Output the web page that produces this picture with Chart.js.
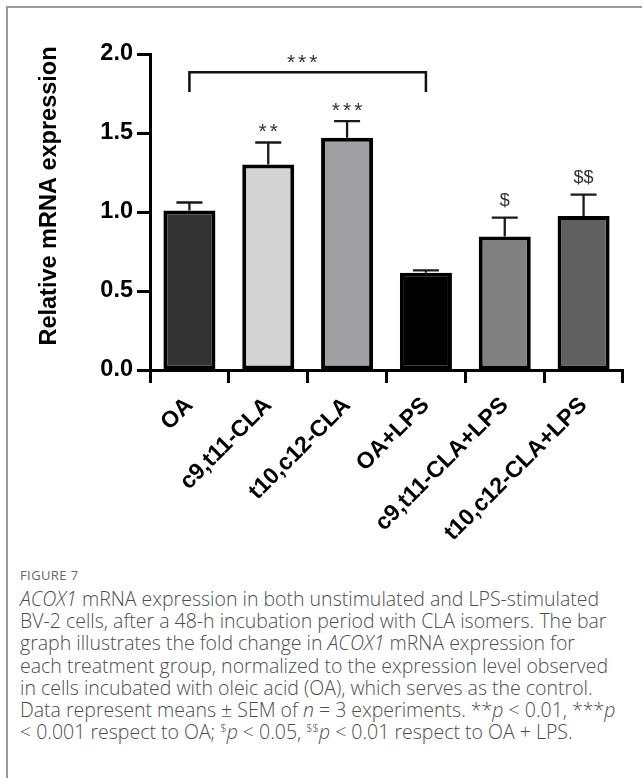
<!DOCTYPE html>
<html>
<head>
<meta charset="utf-8">
<script src="https://cdn.jsdelivr.net/npm/chart.js@4.4.1/dist/chart.umd.min.js"></script>
<style>
  html, body { margin: 0; padding: 0; background: #fff; }
  body { width: 642px; height: 778px; position: relative; overflow: hidden; }
  #frame { position: absolute; left: 6px; top: 6px; width: 640px; height: 780px;
           border-left: 2px solid #9a9a9a; border-top: 2px solid #9a9a9a; }
  #wrap { position: absolute; left: 0; top: 0; width: 642px; height: 555px; }
  #caption { position: absolute; left: 20px; top: 565px; width: 615px; white-space: nowrap;
             font-family: "Open Sans", sans-serif; font-weight: 300; color: #4d4d4d; font-size: 19.5px; line-height: 22.2px; }
  #caption .fig { font-size: 13px; font-weight: 400; color: #666; letter-spacing: 0.4px; margin-bottom: 3px; line-height: 20px; }
  #caption i { font-style: italic; }
  #caption sup { font-size: 11px; line-height: 0; }
</style>
</head>
<body>
<div id="frame"></div>
<div id="wrap"><canvas id="c" width="642" height="555"></canvas></div>
<div id="caption">
  <div class="fig">FIGURE 7</div>
  <div><i>ACOX1</i> mRNA expression in both unstimulated and LPS-stimulated<br>BV-2 cells, after a 48-h incubation period with CLA isomers. The bar<br>graph illustrates the fold change in <i>ACOX1</i> mRNA expression for<br>each treatment group, normalized to the expression level observed<br>in cells incubated with oleic acid (OA), which serves as the control.<br>Data represent means &plusmn; SEM of <i>n</i> = 3 experiments. **<i>p</i> &lt; 0.01, ***<i>p</i><br>&lt; 0.001 respect to OA; <sup>$</sup><i>p</i> &lt; 0.05, <sup>$$</sup><i>p</i> &lt; 0.01 respect to OA + LPS.</div>
</div>
<script>
const categories = ["OA", "c9,t11-CLA", "t10,c12-CLA", "OA+LPS", "c9,t11-CLA+LPS", "t10,c12-CLA+LPS"];
const meanValues = [1.01, 1.30, 1.47, 0.615, 0.845, 0.975];
const semValues  = [0.05, 0.14, 0.105, 0.015, 0.12, 0.135];
const sigLabels  = ["", "**", "***", "", "$", "$$"];
const barColors  = ["#333333", "#d3d3d3", "#a0a0a3", "#000000", "#808080", "#606060"];
const yTicks     = [0, 0.5, 1.0, 1.5, 2.0];
const yTitle     = "Relative mRNA expression";
const bracket    = { from: 0, to: 3, top: 1.885, leg: 1.76, label: "***" };

const FONT = '"Liberation Sans", Arial, sans-serif';

const errorBarPlugin = {
  id: 'errorBars',
  afterDatasetsDraw(chart) {
    const ctx = chart.ctx;
    const xs = chart.scales.x, ys = chart.scales.y;
    const meta = chart.getDatasetMeta(0);
    ctx.save();
    ctx.strokeStyle = '#1a1a1a';
    ctx.lineWidth = 2.3;
    ctx.lineCap = 'butt';
    meta.data.forEach((bar, i) => {
      const x = bar.x;
      const yTop = ys.getPixelForValue(meanValues[i]);
      const yErr = ys.getPixelForValue(meanValues[i] + semValues[i]);
      ctx.beginPath();
      ctx.moveTo(x, yTop);
      ctx.lineTo(x, yErr);
      ctx.moveTo(x - 13, yErr);
      ctx.lineTo(x + 13, yErr);
      ctx.stroke();
      const lab = sigLabels[i];
      if (lab) {
        const isStar = lab[0] === '*';
        ctx.font = isStar ? '21px ' + FONT : '18px ' + FONT;
        ctx.letterSpacing = isStar ? '3px' : '0px';
        ctx.fillStyle = '#333';
        ctx.textAlign = 'center';
        ctx.textBaseline = 'alphabetic';
        const m = ctx.measureText(lab);
        ctx.fillText(lab, x + (isStar ? 1.5 : 0), yErr - 10 - m.actualBoundingBoxDescent);
      }
    });
    const x1 = xs.getPixelForValue(bracket.from);
    const x2 = xs.getPixelForValue(bracket.to);
    const yT = ys.getPixelForValue(bracket.top);
    const yL = ys.getPixelForValue(bracket.leg);
    ctx.lineWidth = 2.5;
    ctx.strokeStyle = '#111';
    ctx.beginPath();
    ctx.moveTo(x1, yL);
    ctx.lineTo(x1, yT);
    ctx.lineTo(x2, yT);
    ctx.lineTo(x2, yL);
    ctx.stroke();
    ctx.font = '21px ' + FONT;
    ctx.letterSpacing = '3px';
    ctx.fillStyle = '#333';
    ctx.textAlign = 'center';
    const m = ctx.measureText(bracket.label);
    ctx.fillText(bracket.label, (x1 + x2) / 2 - 4, yT - 9 - m.actualBoundingBoxDescent);
    ctx.letterSpacing = '0px';
    ctx.translate(50, 196);
    ctx.rotate(-Math.PI / 2);
    ctx.font = 'bold 23.5px ' + FONT;
    ctx.fillStyle = '#000';
    ctx.textAlign = 'center';
    ctx.textBaseline = 'middle';
    ctx.fillText(yTitle, 0, 0);
    ctx.restore();
  }
};

new Chart(document.getElementById('c'), {
  type: 'bar',
  data: {
    labels: categories,
    datasets: [{
      data: meanValues,
      backgroundColor: barColors,
      borderColor: '#000',
      borderWidth: 4,
      borderSkipped: false,
      categoryPercentage: 1.0,
      barPercentage: 0.66
    }]
  },
  options: {
    responsive: false,
    animation: false,
    devicePixelRatio: 1,
    layout: { padding: { top: 54, right: 19, left: 0, bottom: 0 } },
    plugins: { legend: { display: false }, tooltip: { enabled: false } },
    scales: {
      x: {
        grid: { display: true, drawOnChartArea: false, drawTicks: true, tickLength: 13, tickWidth: 3, tickColor: '#000' },
        border: { display: true, color: '#000', width: 3 },
        ticks: {
          minRotation: 45, maxRotation: 45, autoSkip: false, padding: 9,
          color: '#000',
          font: { family: FONT, size: 23, weight: 'bold' }
        },
        afterFit(s) { s.height = 555 - 370; }
      },
      y: {
        min: 0, max: 2.0,
        afterBuildTicks(s) { s.ticks = yTicks.map(v => ({ value: v })); },
        grid: { display: true, drawOnChartArea: false, drawTicks: true, tickLength: 13, tickWidth: 3, tickColor: '#000' },
        border: { display: true, color: '#000', width: 3 },
        ticks: {
          padding: 4, color: '#000',
          font: { family: FONT, size: 23.5, weight: 'bold' },
          callback: (v) => Number(v).toFixed(1)
        },
        afterFit(s) { s.width = 150; }
      }
    }
  },
  plugins: [errorBarPlugin]
});
</script>
</body>
</html>
